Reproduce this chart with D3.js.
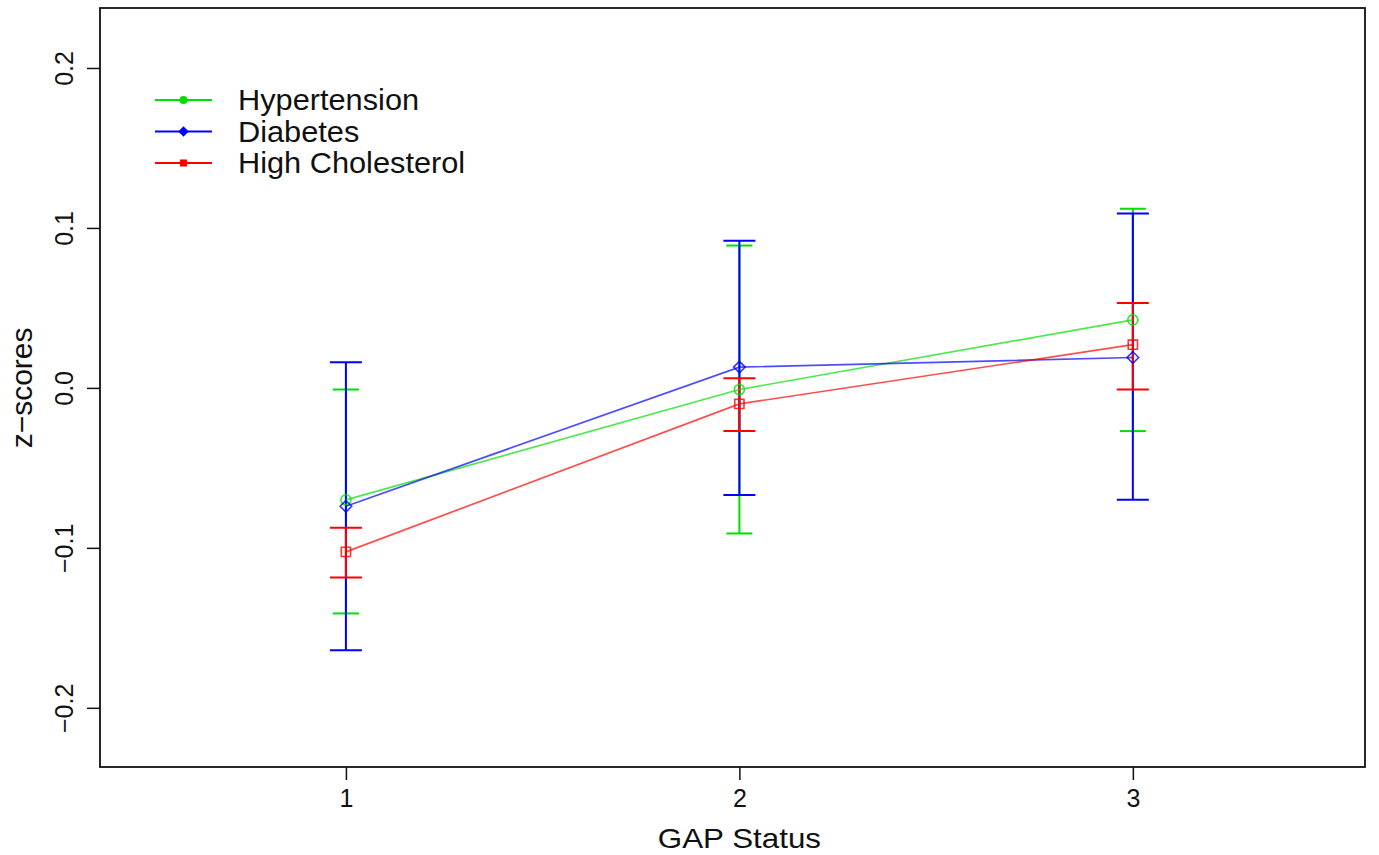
<!DOCTYPE html>
<html>
<head>
<meta charset="utf-8">
<script src="https://cdn.jsdelivr.net/npm/d3@7/dist/d3.min.js"></script>
<style>
  body { margin: 0; background: #fff; }
  text { font-family: "Liberation Sans", Arial, sans-serif; fill: #111; }
</style>
</head>
<body>
<svg class="line-chart"></svg>
<script>
// GAP status categories on the x axis
var gapStatus = [1, 2, 3];

// mean z-scores with lower/upper error bar ends
var hyperMean  = [-0.070, -0.001, 0.0425];
var hyperLow   = [-0.141, -0.091, -0.027];
var hyperHigh  = [-0.001, 0.089, 0.112];

var diabMean   = [-0.074, 0.013, 0.019];
var diabLow    = [-0.164, -0.067, -0.070];
var diabHigh   = [0.016, 0.092, 0.109];

var cholMean   = [-0.1025, -0.010, 0.027];
var cholLow    = [-0.1185, -0.027, -0.001];
var cholHigh   = [-0.0875, 0.006, 0.053];

var yTicks = [-0.2, -0.1, 0.0, 0.1, 0.2];
var yTickLabels = ["\u22120.2", "\u22120.1", "0.0", "0.1", "0.2"];

var seriesNames = ["Hypertension", "Diabetes", "High Cholesterol"];

drawChart();

function symbolFor(shape) {
    if (shape == "circle") return d3.symbolCircle;
    if (shape == "diamond") return d3.symbolDiamond2;
    return d3.symbolSquare;
}

function drawChart() {
    var svgWidth = 1379, svgHeight = 855;
    var margin = { top: 8, right: 14, bottom: 88, left: 100 };
    var width = svgWidth - margin.left - margin.right;
    var height = svgHeight - margin.top - margin.bottom;

    var svg = d3.select('svg.line-chart')
        .attr("width", svgWidth)
        .attr("height", svgHeight);

    var g = svg.append("g")
        .attr("transform", "translate(" + margin.left + "," + margin.top + ")");

    var x = d3.scaleLinear()
        .domain([0.375, 3.59])
        .range([0, width]);

    var y = d3.scaleLinear()
        .domain([-0.237, 0.2375])
        .range([height, 0]);

    // build series from the arrays above
    var series = [
        { name: seriesNames[0], color: "#00e000", mean: hyperMean, low: hyperLow, high: hyperHigh, shape: "circle", cap: 13, size: 80 },
        { name: seriesNames[1], color: "#0000ff", mean: diabMean, low: diabLow, high: diabHigh, shape: "diamond", cap: 16, size: 85 },
        { name: seriesNames[2], color: "#ff0000", mean: cholMean, low: cholLow, high: cholHigh, shape: "square", cap: 16, size: 85 }
    ];

    // x axis
    var xAxis = g.append("g")
        .attr("transform", "translate(0," + height + ")")
        .call(d3.axisBottom(x).tickValues(gapStatus).tickFormat(d3.format("d")).tickSize(13).tickSizeOuter(0));
    xAxis.select(".domain").remove();
    xAxis.selectAll(".tick line").attr("stroke", "#111").attr("stroke-width", 1.5);
    xAxis.selectAll(".tick text")
        .attr("dy", "0.95em")
        .style("font-size", "25px");

    // y axis with rotated labels
    var yAxis = g.append("g")
        .call(d3.axisLeft(y).tickValues(yTicks).tickSize(13).tickSizeOuter(0)
            .tickFormat(function(d, i) { return yTickLabels[i]; }));
    yAxis.select(".domain").remove();
    yAxis.selectAll(".tick line").attr("stroke", "#111").attr("stroke-width", 1.5);
    yAxis.selectAll(".tick text")
        .attr("x", 0)
        .attr("dy", 0)
        .attr("text-anchor", "middle")
        .attr("transform", "translate(-27,0) rotate(-90)")
        .style("font-size", "25px");

    // plot box
    g.append("rect")
        .attr("width", width)
        .attr("height", height)
        .attr("fill", "none")
        .attr("stroke", "#111")
        .attr("stroke-width", 1.8);

    // axis titles
    svg.append("text")
        .attr("transform", "translate(" + (margin.left + x(2)) + ",848) scale(1.12,1)")
        .attr("text-anchor", "middle")
        .style("font-size", "28px")
        .text("GAP Status");

    svg.append("text")
        .attr("transform", "translate(32," + (margin.top + y(0)) + ") rotate(-90)")
        .attr("text-anchor", "middle")
        .style("font-size", "30px")
        .text("z\u2212scores");

    var line = d3.line()
        .x(function(d, i) { return x(gapStatus[i]); })
        .y(function(d) { return y(d); });

    // error bars first so that lines sit on top
    series.forEach(function(s) {
        gapStatus.forEach(function(gs, i) {
            var cx = x(gs);
            g.append("line")
                .attr("x1", cx).attr("x2", cx)
                .attr("y1", y(s.low[i])).attr("y2", y(s.high[i]))
                .attr("stroke", s.color).attr("stroke-width", 2);
            [s.low[i], s.high[i]].forEach(function(v) {
                g.append("line")
                    .attr("x1", cx - s.cap).attr("x2", cx + s.cap)
                    .attr("y1", y(v)).attr("y2", y(v))
                    .attr("stroke", s.color).attr("stroke-width", 2);
            });
        });
    });

    series.forEach(function(s) {
        // connecting line
        g.append("path")
            .datum(s.mean)
            .attr("fill", "none")
            .attr("stroke", s.color)
            .attr("stroke-opacity", 0.7)
            .attr("stroke-width", 1.7)
            .attr("d", line);

        // open markers at the means
        g.selectAll(null)
            .data(s.mean)
            .enter()
            .append("path")
            .attr("transform", function(d, i) { return "translate(" + x(gapStatus[i]) + "," + y(d) + ")"; })
            .attr("d", d3.symbol().type(symbolFor(s.shape)).size(s.size))
            .attr("fill", "none")
            .attr("stroke", s.color)
            .attr("stroke-opacity", 0.8)
            .attr("stroke-width", 1.6);
    });

    // legend
    var legend = svg.append("g")
        .attr("transform", "translate(155,100)");
    series.forEach(function(s, i) {
        var row = legend.append("g").attr("transform", "translate(0," + (i * 31.5) + ")");
        row.append("line")
            .attr("x1", 0).attr("x2", 57)
            .attr("stroke", s.color).attr("stroke-width", 2);
        row.append("path")
            .attr("transform", "translate(28.5,0)")
            .attr("d", d3.symbol().type(symbolFor(s.shape)).size(s.shape == "diamond" ? 70 : 50))
            .attr("fill", s.color);
        row.append("text")
            .attr("transform", "translate(83,10) scale(1.06,1)")
            .style("font-size", "29px")
            .text(s.name);
    });
}
</script>
</body>
</html>
